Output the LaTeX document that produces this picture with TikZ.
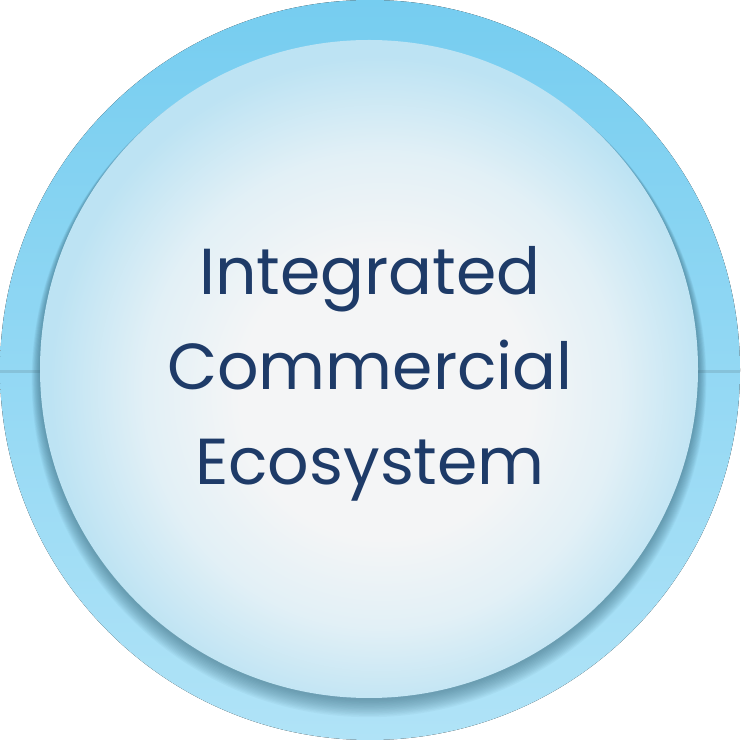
\documentclass[tikz,border=0pt]{standalone}
\usepackage{fontspec}
\setmainfont{Poppins}
\usetikzlibrary{calc}
\definecolor{ringtop}{HTML}{76CDF0}
\definecolor{ringbot}{HTML}{B0E3F7}
\definecolor{innermid}{HTML}{F4F5F6}
\definecolor{innersoft}{HTML}{E2F0F6}
\definecolor{inneredge}{HTML}{BDE3F3}
\definecolor{linecol}{HTML}{86C2DA}
\definecolor{shadowcol}{HTML}{3A6A7E}
\definecolor{textcol}{HTML}{1E3B68}
\pgfdeclareradialshading{innerglow}{\pgfpoint{1.5bp}{-2.5bp}}{color(0bp)=(innermid); color(11bp)=(innermid); color(18bp)=(innersoft); color(25bp)=(inneredge); color(50bp)=(inneredge)}
\tikzset{
  ring/.style={top color=ringtop, bottom color=ringbot, draw=none},
  disc/.style={shading=innerglow, draw=none},
  axisline/.style={draw=linecol, line width=3pt},
  label/.style={text=textcol, font=\fontsize{65}{95}\selectfont, align=center}
}
\begin{document}
\begin{tikzpicture}[x=1pt,y=1pt]
\useasboundingbox (0,0) rectangle (740,744);
\coordinate (c) at (370,374);
\coordinate (ci) at (369,375);
\fill[ring] (c) circle (370);
\coordinate (lL) at (0,372);
\coordinate (lR) at (740,372);
\draw[axisline] (lL) -- (lR);
% soft shadow
\foreach \i in {1,...,14}{
  \fill[shadowcol, opacity=0.05] ($(ci)+(0,-1-0.7*\i)$) circle ({329+0.6*\i});
}
\node[disc, circle, minimum size=658pt, inner sep=0pt] (inner) at (ci) {};
\node[label] (t) at (370,370) {Integrated\\Commercial\\Ecosystem};
\end{tikzpicture}
\end{document}
